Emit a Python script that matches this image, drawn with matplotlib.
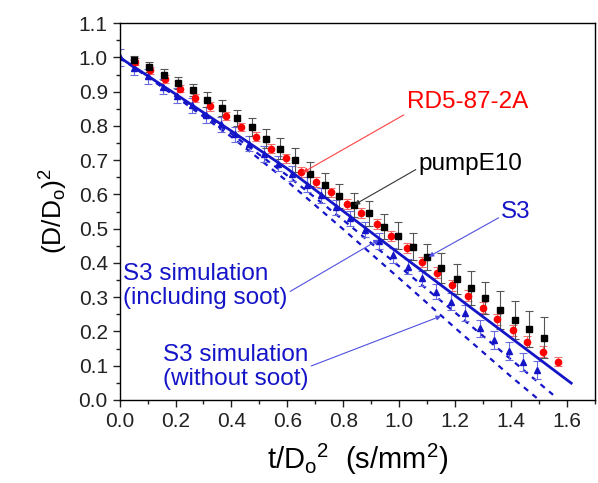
import matplotlib
matplotlib.use("Agg")
import matplotlib.pyplot as plt
from matplotlib.ticker import MultipleLocator

plt.rcParams['font.family'] = ['Liberation Sans', 'DejaVu Sans']
plt.rcParams['mathtext.fontset'] = 'custom'
plt.rcParams['mathtext.rm'] = 'Liberation Sans'
plt.rcParams['mathtext.it'] = 'Liberation Sans'

# --- pumpE10 (black squares) ---
pump_x = [0.053, 0.106, 0.158, 0.209, 0.263, 0.314, 0.367, 0.419, 0.473, 0.524,
          0.575, 0.628, 0.680, 0.734, 0.786, 0.838, 0.891, 0.945, 0.995, 1.048,
          1.101, 1.151, 1.205, 1.258, 1.308, 1.361, 1.415, 1.465, 1.518]
pump_y = [0.993, 0.972, 0.950, 0.926, 0.904, 0.877, 0.853, 0.824, 0.797, 0.763,
          0.734, 0.700, 0.659, 0.627, 0.596, 0.570, 0.545, 0.506, 0.480, 0.447,
          0.416, 0.384, 0.353, 0.327, 0.297, 0.262, 0.233, 0.207, 0.182]
pump_err = [0.012, 0.015, 0.017, 0.018, 0.018, 0.022, 0.023, 0.023, 0.026, 0.027,
            0.031, 0.035, 0.035, 0.035, 0.035, 0.035, 0.036, 0.036, 0.040, 0.039,
            0.038, 0.044, 0.044, 0.050, 0.047, 0.055, 0.056, 0.052, 0.061]

# --- RD5-87-2A (red circles) ---
rd_x = [0.054, 0.108, 0.162, 0.215, 0.271, 0.325, 0.379, 0.435, 0.488, 0.542,
        0.595, 0.648, 0.704, 0.757, 0.812, 0.864, 0.919, 0.972, 1.028, 1.081,
        1.135, 1.188, 1.245, 1.298, 1.350, 1.405, 1.458, 1.514, 1.568]
rd_y = [0.988, 0.963, 0.937, 0.909, 0.882, 0.857, 0.829, 0.797, 0.768, 0.734,
        0.705, 0.666, 0.636, 0.606, 0.573, 0.546, 0.513, 0.478, 0.444, 0.403,
        0.372, 0.335, 0.304, 0.269, 0.236, 0.204, 0.170, 0.141, 0.112]
rd_err = [0.010, 0.010, 0.011, 0.011, 0.012, 0.012, 0.012, 0.013, 0.013, 0.013,
          0.014, 0.014, 0.014, 0.014, 0.015, 0.015, 0.015, 0.015, 0.015, 0.015,
          0.016, 0.016, 0.016, 0.016, 0.016, 0.016, 0.016, 0.015, 0.014]

# --- S3 (blue triangles) ---
s3_x = [0.0, 0.052, 0.103, 0.155, 0.206, 0.258, 0.309, 0.361, 0.412, 0.464,
        0.515, 0.567, 0.618, 0.670, 0.721, 0.773, 0.824, 0.876, 0.927, 0.979,
        1.030, 1.082, 1.133, 1.185, 1.236, 1.288, 1.339, 1.391, 1.442, 1.494]
s3_y = [1.000, 0.970, 0.945, 0.915, 0.888, 0.860, 0.832, 0.805, 0.776, 0.748,
        0.718, 0.690, 0.660, 0.628, 0.597, 0.563, 0.530, 0.497, 0.464, 0.423,
        0.389, 0.355, 0.316, 0.287, 0.253, 0.209, 0.175, 0.143, 0.110, 0.087]
s3_err = [0.025, 0.022, 0.022, 0.022, 0.022, 0.022, 0.022, 0.022, 0.022, 0.022,
          0.022, 0.022, 0.022, 0.022, 0.022, 0.022, 0.022, 0.022, 0.022, 0.022,
          0.022, 0.022, 0.022, 0.024, 0.024, 0.024, 0.027, 0.027, 0.027, 0.027]

# --- S3 simulations ---
sim_soot_x = [0.0, 0.2, 0.4, 0.6, 0.8, 1.0, 1.2, 1.4, 1.615]
sim_soot_y = [1.0, 0.893, 0.785, 0.675, 0.551, 0.427, 0.304, 0.181, 0.049]
sim_a_x = [0.0, 0.2, 0.4, 0.6, 0.8, 1.0, 1.2, 1.4, 1.55]
sim_a_y = [1.0, 0.890, 0.777, 0.655, 0.525, 0.390, 0.255, 0.118, 0.015]
sim_b_x = [0.0, 0.2, 0.4, 0.6, 0.8, 1.0, 1.2, 1.4, 1.5]
sim_b_y = [1.0, 0.886, 0.768, 0.638, 0.498, 0.355, 0.210, 0.068, 0.0]

blue = "#1515c8"

fig = plt.figure(figsize=(5.98, 4.83), dpi=100)
ax = fig.add_axes([0.2, 0.172, 0.795, 0.78])

ax.plot(sim_b_x, sim_b_y, color=blue, lw=1.6, ls=(0, (2.5, 2.5)))
ax.plot(sim_a_x, sim_a_y, color=blue, lw=1.6, ls=(0, (2.5, 2.5)))

ax.errorbar(s3_x, s3_y, yerr=s3_err, fmt="^", color=blue, ms=4.5,
            ecolor="#6a6ae0", elinewidth=0.8, capsize=3, capthick=0.8)
ax.errorbar(rd_x, rd_y, yerr=rd_err, fmt="o", color="red", ms=4.5,
            ecolor="#f07070", elinewidth=0.8, capsize=3, capthick=0.8)
ax.errorbar(pump_x, pump_y, yerr=pump_err, fmt="s", color="black", ms=4.5,
            ecolor="#555555", elinewidth=0.8, capsize=3, capthick=0.8)

ax.plot(sim_soot_x, sim_soot_y, color=blue, lw=2.0)

arrow = dict(arrowstyle="-|>", lw=0.8, mutation_scale=7, shrinkA=0, shrinkB=0)
ax.annotate("RD5-87-2A", xy=(0.655, 0.664), xytext=(1.243, 0.869),
            color="red", fontsize=17.5, ha="center", va="center",
            arrowprops=dict(arrow, color="#ff4040", relpos=(0.0, 0.0)))
ax.annotate("pumpE10", xy=(0.84, 0.570), xytext=(1.069, 0.69),
            color="black", fontsize=17.5, ha="left", va="center",
            arrowprops=dict(arrow, color="#333333", relpos=(0.0, 0.3)))
ax.annotate("S3", xy=(1.105, 0.418), xytext=(1.418, 0.549),
            color=blue, fontsize=17.5, ha="center", va="center",
            arrowprops=dict(arrow, color="#5050e0", relpos=(0.0, 0.3)))
ax.annotate("S3 simulation\n(including soot)", xy=(0.927, 0.468), xytext=(0.012, 0.332),
            color=blue, fontsize=17.5, ha="left", va="center", linespacing=1.1,
            arrowprops=dict(arrow, color="#5050e0", relpos=(1.0, 0.35)))
ax.annotate("S3 simulation\n(without soot)", xy=(1.15, 0.245), xytext=(0.155, 0.096),
            color=blue, fontsize=17.5, ha="left", va="center", linespacing=1.1,
            arrowprops=dict(arrow, color="#5050e0", relpos=(1.0, 0.5)))

ax.set_xlim(0, 1.7)
ax.set_ylim(0, 1.1)
ax.xaxis.set_major_locator(MultipleLocator(0.2))
ax.xaxis.set_minor_locator(MultipleLocator(0.1))
ax.yaxis.set_major_locator(MultipleLocator(0.1))
ax.yaxis.set_minor_locator(MultipleLocator(0.05))
ax.set_xticks([0.0, 0.2, 0.4, 0.6, 0.8, 1.0, 1.2, 1.4, 1.6])
ax.tick_params(which="both", direction="out", labelsize=15, width=1.0, colors="#222222")
ax.tick_params(which="major", length=5)
ax.tick_params(which="minor", length=3)
for s in ax.spines.values():
    s.set_linewidth(1.0)

ax.set_xlabel(r"t/D$_\mathregular{o}$$^\mathregular{2}$  (s/mm$^\mathregular{2}$)", fontsize=21, labelpad=8)
ax.set_ylabel(r"(D/D$_\mathregular{o}$)$^\mathregular{2}$", fontsize=19, labelpad=6)

plt.savefig("out.png", dpi=100)
